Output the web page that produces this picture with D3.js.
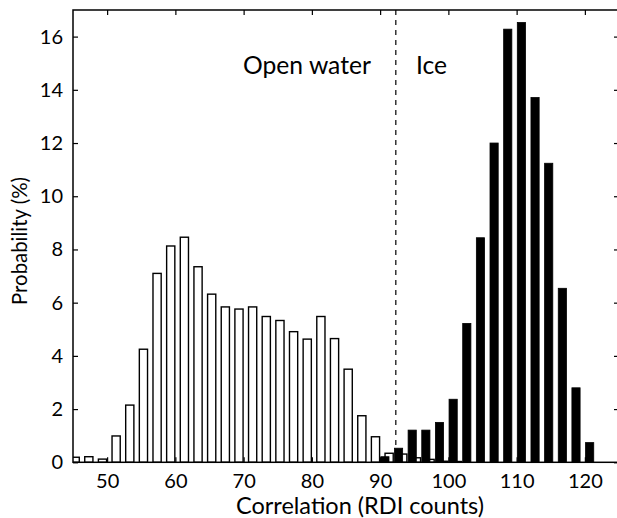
<!DOCTYPE html>
<html><head><meta charset="utf-8">
<script src="https://cdn.jsdelivr.net/npm/d3@7"></script>
<style>body{margin:0;background:#fff}svg{display:block}text{font-family:Lato,"Open Sans",sans-serif;fill:#000}</style>
</head><body><svg id="c" width="617" height="518"></svg>
<script>
const bins = [46,48,50,52,54,56,58,60,62,64,66,68,70,72,74,76,78,80,82,84,86,88,90,92,94,96,98,100,102,104,106,108,110,112,114,116,118,120];
const openWater = [0.19,0.21,0.12,0.99,2.15,4.25,7.1,8.13,8.46,7.35,6.32,5.84,5.76,5.84,5.48,5.33,4.91,4.63,5.48,4.65,3.5,1.75,0.96,0.34,0.31,0.17,0.11,0.04,0.03,0,0,0,0,0,0,0,0,0];
const ice = [0,0,0,0,0,0,0,0,0,0,0,0,0,0,0,0,0,0,0,0,0,0,0.21,0.53,1.21,1.21,1.5,2.37,5.22,8.44,12.0,16.28,16.53,13.71,11.24,6.54,2.8,0.74];
const xTicks = [50,60,70,80,90,100,110,120];
const yTicks = [0,2,4,6,8,10,12,14,16];
const threshold = 92.3;
const labels = {water:"Open water", ice:"Ice", x:"Correlation (RDI counts)", y:"Probability (%)"};

const svg = d3.select("#c");
const L=73, R=619, T=10, B=462.3;
const x = d3.scaleLinear().domain([45,125]).range([L,R]);
const y = d3.scaleLinear().domain([0,17]).range([B,T]);
const bw = x(1.2)-x(0);

svg.append("defs").append("clipPath").attr("id","clip").append("rect")
  .attr("x",L).attr("y",T).attr("width",R-L).attr("height",B-T);

// dashed threshold
svg.append("line").attr("x1",x(threshold)).attr("x2",x(threshold)).attr("y1",T).attr("y2",B)
  .attr("stroke","#000").attr("stroke-width",1.2).attr("stroke-dasharray","5,5");

const g = svg.append("g").attr("clip-path","url(#clip)");
const wData = bins.map((b,i)=>({b,v:openWater[i]})).filter(d=>d.v>0);
const iData = bins.map((b,i)=>({b,v:ice[i]})).filter(d=>d.v>0);
g.selectAll("rect.w").data(wData).join("rect").attr("class","w")
  .attr("x",d=>x(d.b-0.68)-bw/2).attr("width",bw)
  .attr("y",d=>y(d.v)).attr("height",d=>y(0)-y(d.v))
  .attr("fill","#fff").attr("stroke","#000").attr("stroke-width",1.4);
g.selectAll("rect.i").data(iData).join("rect").attr("class","i")
  .attr("x",d=>x(d.b+0.7)-bw/2).attr("width",bw)
  .attr("y",d=>y(d.v)).attr("height",d=>y(0)-y(d.v))
  .attr("fill","#000").attr("stroke","#000").attr("stroke-width",0.8);

// axes
const tk = 5;
const fs = "20px";
const xb = svg.append("g").attr("transform",`translate(0,${B})`)
  .call(d3.axisBottom(x).tickValues(xTicks).tickSizeInner(-tk).tickSizeOuter(0).tickPadding(12));
const xt = svg.append("g").attr("transform",`translate(0,${T})`)
  .call(d3.axisTop(x).tickValues(xTicks).tickSizeInner(-tk).tickSizeOuter(0).tickFormat(""));
const yl = svg.append("g").attr("transform",`translate(${L},0)`)
  .call(d3.axisLeft(y).tickValues(yTicks).tickSizeInner(-tk).tickSizeOuter(0).tickPadding(10));
const yr = svg.append("g").attr("transform",`translate(${R},0)`)
  .call(d3.axisRight(y).tickValues(yTicks).tickSizeInner(-tk).tickSizeOuter(0).tickFormat(""));
[xb,xt,yl,yr].forEach(a=>{
  a.select(".domain").remove();
  a.selectAll(".tick line").attr("stroke","#000").attr("stroke-width",1.2);
  a.selectAll("text").style("font-family","Lato,'Open Sans',sans-serif").style("font-size",fs).attr("fill","#000");
});
xb.selectAll("text").attr("dy","0.71em");
svg.append("rect").attr("x",L).attr("y",T).attr("width",R-L).attr("height",B-T)
  .attr("fill","none").attr("stroke","#000").attr("stroke-width",1.5);

function fit(sel, base, target){
  sel.style("font-size", base+"px");
  const w = sel.node().getComputedTextLength();
  sel.style("font-size", (base*target/w).toFixed(2)+"px");
}
const tw = svg.append("text").attr("x",243).attr("y",74).text(labels.water); fit(tw,24,128);
const ti = svg.append("text").attr("x",416).attr("y",74).style("font-size",tw.style("font-size")).text(labels.ice);
const tx = svg.append("text").attr("x",360).attr("y",513.5).attr("text-anchor","middle").text(labels.x); fit(tx,20,248);
const ty = svg.append("text").attr("transform",`translate(27,${241}) rotate(-90)`).attr("text-anchor","middle").text(labels.y); fit(ty,20,128);
</script></body></html>
